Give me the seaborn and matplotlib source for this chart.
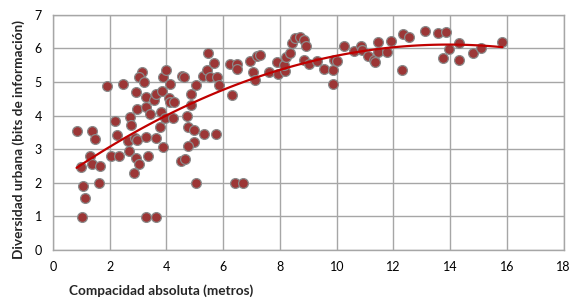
import numpy as np
import pandas as pd
import matplotlib
matplotlib.use("Agg")
import matplotlib.pyplot as plt
import seaborn as sns

compacidad = [
    0.83, 0.99, 1.06, 1.12, 1.03, 1.38, 1.47, 1.30, 1.38, 1.65,
    1.63, 1.91, 2.46, 2.20, 2.24, 2.06, 2.31, 2.72, 2.75, 2.63,
    2.67, 2.90, 2.96, 2.94, 3.02, 2.87, 3.29, 3.34, 3.64, 2.94,
    2.96, 3.14, 3.02, 3.22, 3.29, 3.29, 3.43, 3.55, 3.62, 3.85,
    3.88, 4.00, 4.11, 3.79, 3.93, 3.76, 3.86, 4.08, 4.14, 4.28,
    4.23, 4.55, 4.60, 4.72, 4.88, 4.88, 5.03, 4.75, 4.96, 4.96,
    4.76, 5.31, 5.73, 5.27, 5.43, 5.55, 5.78, 5.46, 5.66, 3.28,
    3.63, 4.51, 4.67, 5.03, 6.43, 6.68, 5.84, 6.31, 6.23, 6.48,
    6.48, 6.95, 7.05, 7.13, 7.19, 7.28, 7.62, 7.89, 7.92, 8.19,
    8.13, 8.22, 8.34, 8.42, 8.54, 8.69, 8.86, 8.93, 8.83, 9.01,
    9.30, 9.56, 9.86, 9.89, 10.00, 9.86, 10.26, 10.60, 10.85, 10.89,
    11.10, 11.30, 11.36, 11.47, 11.47, 11.78, 11.92, 12.33, 12.56, 12.30,
    13.12, 13.56, 13.86, 14.30, 13.94, 13.76, 14.30, 14.82, 15.08, 15.84,
]
diversidad = [
    3.54, 2.47, 1.90, 1.56, 0.98, 3.54, 3.29, 2.80, 2.57, 2.50,
    2.00, 4.88, 4.93, 3.85, 3.42, 2.80, 2.79, 3.97, 3.72, 3.25,
    2.94, 3.33, 3.27, 2.74, 2.57, 2.30, 3.35, 2.80, 3.32, 4.70,
    4.18, 5.30, 5.16, 5.00, 4.54, 4.24, 4.04, 4.46, 4.63, 4.74,
    5.16, 5.34, 4.93, 4.11, 3.92, 3.65, 3.05, 4.51, 4.41, 4.40,
    3.93, 5.18, 5.16, 3.99, 4.64, 4.31, 4.91, 3.67, 3.57, 3.22,
    3.10, 3.45, 3.45, 5.18, 5.34, 5.14, 5.16, 5.87, 5.56, 0.98,
    0.98, 2.64, 2.72, 1.98, 1.98, 1.98, 4.91, 4.61, 5.53, 5.53,
    5.38, 5.63, 5.31, 5.06, 5.76, 5.80, 5.31, 5.60, 5.24, 5.33,
    5.51, 5.74, 5.86, 6.15, 6.30, 6.33, 6.25, 6.08, 5.66, 5.53,
    5.61, 5.39, 5.36, 5.66, 5.61, 4.94, 6.08, 5.93, 6.08, 5.96,
    5.78, 5.64, 5.58, 6.18, 5.88, 5.88, 6.21, 6.42, 6.35, 5.36,
    6.51, 6.47, 6.50, 6.15, 5.98, 5.71, 5.66, 5.87, 6.02, 6.18,
]
x_ticks = [0, 2, 4, 6, 8, 10, 12, 14, 16, 18]
y_ticks = [0, 1, 2, 3, 4, 5, 6, 7]
x_label = "Compacidad absoluta (metros)"
y_label = "Diversidad urbana (bits de información)"

df = pd.DataFrame({"x": compacidad, "y": diversidad})

sns.set_style("white")
plt.rcParams["font.family"] = ["Lato", "DejaVu Sans"]

fig = plt.figure(figsize=(5.74, 3.06), dpi=100)
ax = fig.add_axes([53/574, 1 - 250/306, (563.7 - 53)/574, (250 - 14.7)/306])

grid_c = "#A6A6A6"
ax.set_axisbelow(True)
for t in x_ticks:
    ax.axvline(t, color=grid_c, lw=1.0, zorder=0)
for t in y_ticks:
    ax.axhline(t, color=grid_c, lw=1.0, zorder=0)

sns.scatterplot(data=df, x="x", y="y", ax=ax, s=50, color="#9C3636",
                edgecolor="#8A8A8A", linewidth=0.9, zorder=3)
sns.regplot(data=df, x="x", y="y", ax=ax, scatter=False, order=2, ci=None,
            line_kws={"color": "#C00000", "lw": 1.6, "zorder": 4})

ax.set_xlim(0, 18)
ax.set_ylim(0, 7)
ax.set_xticks(x_ticks)
ax.set_yticks(y_ticks)
ax.tick_params(axis="both", labelsize=9, length=4, width=1,
               direction="out", pad=4, colors="black")
ax.tick_params(axis="both", color=grid_c)
for s in ax.spines.values():
    s.set_visible(True)
    s.set_color(grid_c)
    s.set_linewidth(1.0)

ax.set_xlabel(x_label, fontsize=9.8, fontweight="bold")
ax.set_ylabel(y_label, fontsize=9.8, fontweight="bold")
ax.xaxis.set_label_coords((161 - 53) / 510.7, -0.145)
ax.yaxis.set_label_coords(-0.055, 0.47)

fig.savefig("out.png", dpi=100)
